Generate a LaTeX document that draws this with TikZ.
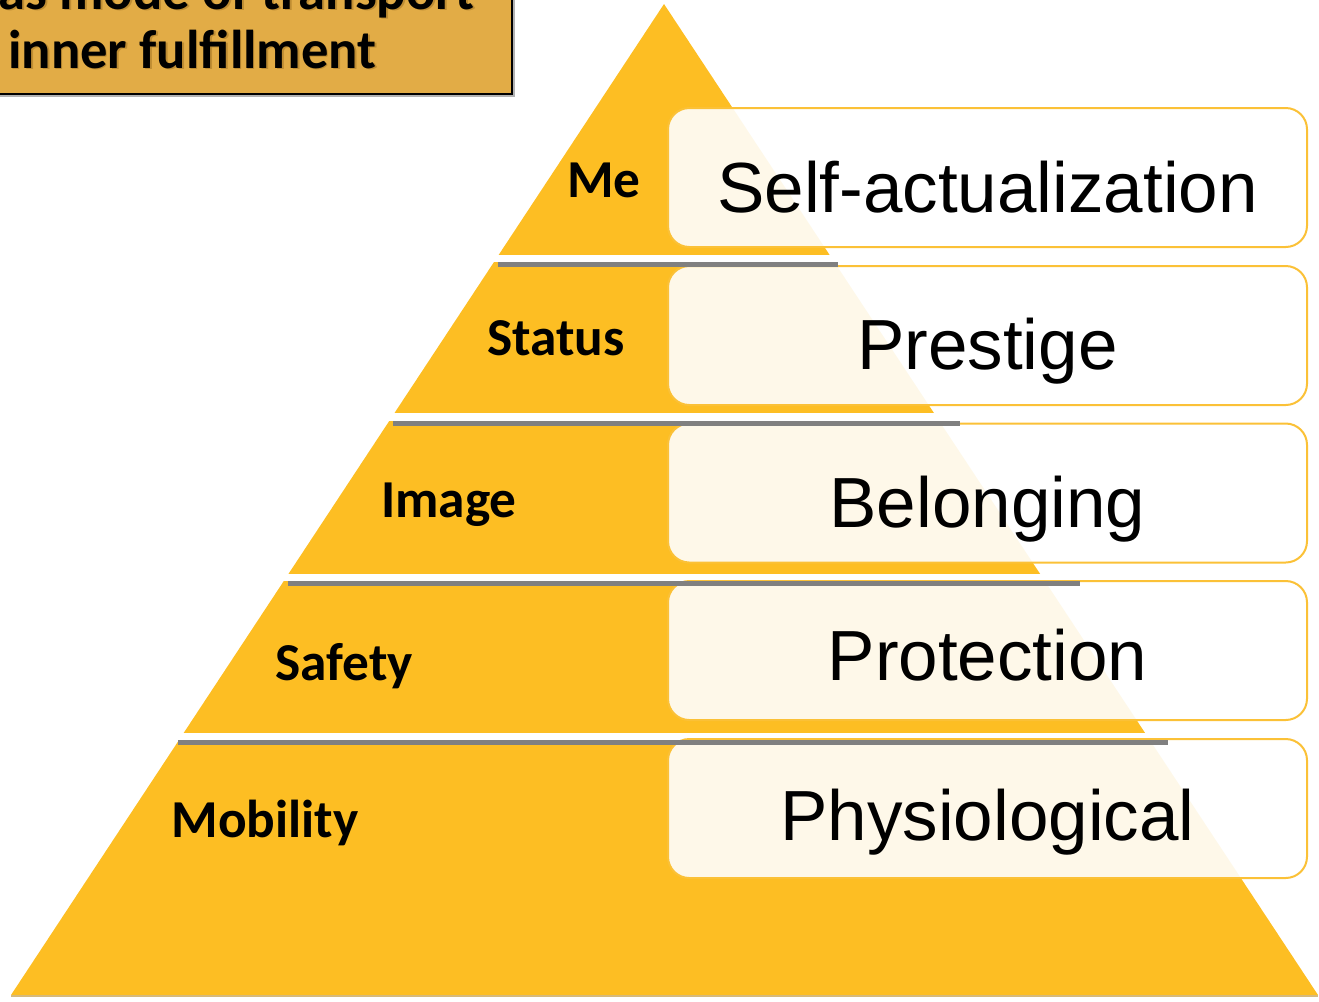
\documentclass[tikz,border=0pt]{standalone}
\usepackage{fontspec}
\newfontfamily\calibrifont{Carlito}
\newfontfamily\arialfont{Liberation Sans}
\definecolor{pyr}{RGB}{253,190,35}
\definecolor{tierline}{RGB}{251,193,55}
\definecolor{headfill}{RGB}{226,172,70}
\definecolor{sepgray}{RGB}{128,128,128}
\definecolor{basetan}{RGB}{214,186,124}
\definecolor{textshade}{RGB}{150,105,30}
\tikzset{
  tier/.style={draw=tierline, line width=1.5pt, fill=white, fill opacity=0.9,
    rounded corners=16pt, minimum width=479.25pt, minimum height=104.25pt,
    inner sep=0pt},
  need/.style={font=\arialfont\fontsize{53.25}{60}\selectfont, anchor=base,
    inner sep=0pt},
  level/.style={font=\calibrifont\bfseries\fontsize{40}{48}\selectfont,
    anchor=base, inner sep=0pt},
  headtext/.style={font=\calibrifont\bfseries\fontsize{41}{48}\selectfont,
    anchor=base west, inner sep=0pt},
  separator/.style={sepgray, line width=3.75pt},
}
\begin{document}
\begin{tikzpicture}[x=0.75pt,y=-0.75pt]
\useasboundingbox (0,0) rectangle (1319,1001);
\clip (0,0) rectangle (1319,1001);

% pyramid body and its base edge
\fill[pyr] (664,4) -- (1318,995) -- (11,995) -- cycle;
\draw[basetan, line width=1.5pt] (11,995.5) -- (1318,995.5);

% white gaps between the tiers
\foreach \a/\b in {255/262, 413/421, 574/581, 733/740}
  \fill[white] (0,\a) rectangle (1319,\b);

% translucent need boxes
\node[tier] (t1) at (987.5,177.5) {};
\node[tier] (t2) at (987.5,335.5) {};
\node[tier] (t3) at (987.5,493) {};
\node[tier] (t4) at (987.5,650.5) {};
\node[tier] (t5) at (987.5,808.5) {};

% grey separators
\draw[separator] (498,264.5) -- (838,264.5);
\draw[separator] (393,423.5) -- (960,423.5);
\draw[separator] (288,583) -- (1080,583);
\draw[separator] (178,742.5) -- (1168,742.5);

% needs
\node[need] (n1) at (987.5,212) {Self-actualization};
\node[need] (n2) at (987.5,369) {Prestige};
\node[need] (n3) at (987.5,527) {Belonging};
\node[need] (n4) at (987.5,680) {Protection};
\node[need] (n5) at (987.5,840) {Physiological};

% levels
\node[level] (l1) at (604,197) {Me};
\node[level] (l2) at (556,355) {Status};
\node[level] (l3) at (449,517) {Image};
\node[level] (l4) at (344,680) {Safety};
\node[level] (l5) at (265,837) {Mobility};

% heading box
\fill[gray!60] (-10,-10) rectangle (515,97);
\draw[black, line width=1.8pt, fill=headfill] (-10,-10) rectangle (512,94);
\node[headtext, text=textshade, opacity=0.45] (h1s) at (0,10.5) {as mode of transport};
\node[headtext, text=textshade, opacity=0.45] (h2s) at (9.5,69.5) {inner fulfillment};
\node[headtext] (h1) at (-2,9) {as mode of transport};
\node[headtext] (h2) at (8,68) {inner fulfillment};
\end{tikzpicture}
\end{document}
